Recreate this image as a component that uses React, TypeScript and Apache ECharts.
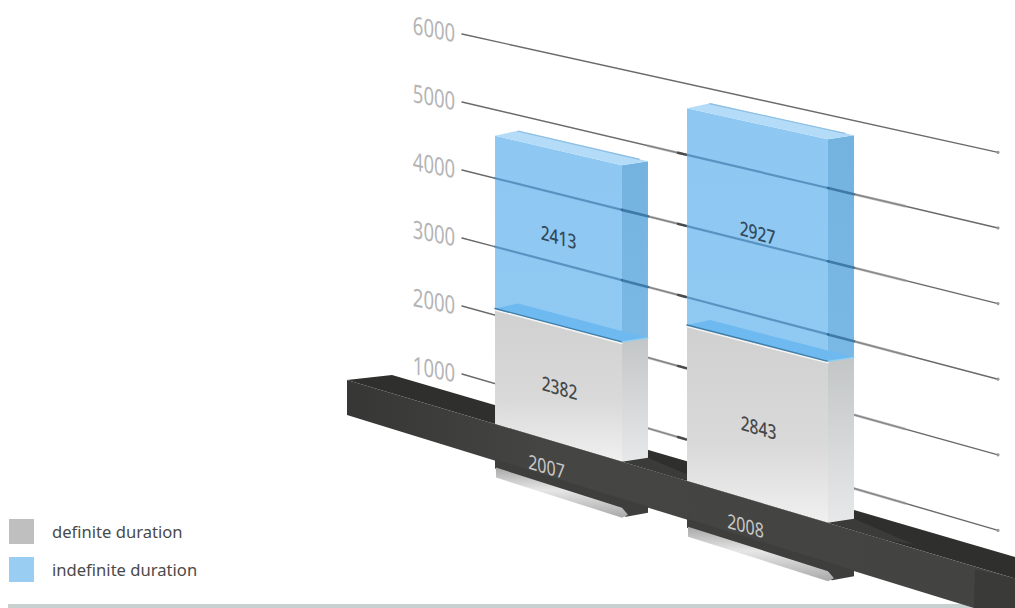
import React, { useEffect, useRef } from "react";
import * as echarts from "echarts";

const categories = ["2007", "2008"];
const definiteValues = [2382, 2843];
const indefiniteValues = [2413, 2927];
const tickValues = [1000, 2000, 3000, 4000, 5000, 6000];

// Back wall: the y axis runs along its left edge and the lines fan out to the right.
const WALL_LEFT = 462;
const WALL_RIGHT = 998;
const AXIS_ZERO = 442;
const AXIS_SCALE = 0.068;
const WALL_ZERO_RIGHT = 606;
const WALL_SCALE_RIGHT = 0.0756;

function wallY(x: number, py: number) {
  const v = (AXIS_ZERO - py) / AXIS_SCALE;
  const right = WALL_ZERO_RIGHT - WALL_SCALE_RIGHT * v;
  return py + ((x - WALL_LEFT) / (WALL_RIGHT - WALL_LEFT)) * (right - py);
}

// Front plane of the columns, sheared and slightly enlarged towards the right.
function frontY(x: number, py: number) {
  const v = (AXIS_ZERO - py) / AXIS_SCALE;
  const base = 479 + (x - 495) * 0.294;
  const scale = 0.0716 + (x - 495) * 1.27e-5;
  return base - scale * v;
}

// Plinth edges
const plinthTop = (x: number) => 380 + (x - 347) * 0.297;
const plinthBottom = (x: number) => 415 + (x - 347) * 0.308;

const DEPTH_X = 26;
const DEPTH_Y = -4;

function columnEdges(api: any, idx: number) {
  const cx = api.coord([idx, 0])[0];
  const band = api.size([1, 0])[0];
  const w = band * (0.638 + (cx - 558.5) * 0.000354);
  return { cx, xl: cx - w / 2, xr: cx + w / 2 };
}

const poly = (points: number[][], style: any, extra: any = {}) => ({
  type: "polygon",
  shape: { points },
  style,
  ...extra,
});

const line = (x1: number, y1: number, x2: number, y2: number, stroke: string, lineWidth: number) => ({
  type: "line",
  shape: { x1, y1, x2, y2 },
  style: { stroke, lineWidth, lineCap: "round", fill: "none" },
});

const vGrad = (stops: [number, string][]) =>
  new echarts.graphic.LinearGradient(0, 0, 0, 1, stops.map(([offset, color]) => ({ offset, color })));

// Text lying in a sheared plane: verticals stay vertical, the baseline runs downhill
// with the given slope. The shear is split into rotate / scale / rotate for nested elements.
function shearedText(text: string, x: number, y: number, narrow: number, slope: number, style: any) {
  const p = narrow;
  const r = slope * narrow;
  const s = 1;
  const E = (p + s) / 2;
  const F = (p - s) / 2;
  const G = r / 2;
  const H = r / 2;
  const Q = Math.hypot(E, H);
  const R = Math.hypot(F, G);
  const a1 = Math.atan2(G, F);
  const a2 = Math.atan2(H, E);
  const theta = (a2 - a1) / 2;
  const phi = (a2 + a1) / 2;
  return {
    type: "group",
    x,
    y,
    rotation: -phi,
    scaleX: Q + R,
    scaleY: Q - R,
    children: [
      {
        type: "text",
        rotation: -theta,
        style: { text, align: "center", verticalAlign: "middle", ...style },
      },
    ],
  };
}

const rowLabel = (text: string, x: number, y: number, fill: string) =>
  shearedText(text, x, y, 0.78, 0.29, {
    fill,
    fontFamily: "Noto Sans",
    fontSize: 20,
    fontWeight: 500,
  });

function renderWall(_: any, api: any) {
  const value = api.value(1);
  const py = api.coord([0, value])[1];
  const y = (x: number) => wallY(x, py);
  const children: any[] = [
    line(WALL_LEFT, y(WALL_LEFT), WALL_RIGHT, y(WALL_RIGHT), "#6a6a6a", 1.4),
    { type: "circle", shape: { cx: WALL_RIGHT, cy: y(WALL_RIGHT), r: 1.6 }, style: { fill: "#9a9a9a" } },
    shearedText(String(value), WALL_LEFT - 28, y(WALL_LEFT) - 6, 0.74, 0.2, {
      fill: "#b4b4b4",
      fontFamily: "Noto Sans",
      fontWeight: 400,
      fontSize: 25,
    }),
  ];
  if (value < 6000) {
    children.push(line(854, y(854), 905, y(905), "rgba(150,150,150,0.65)", 2.6));
    children.push(line(648, y(648), 687, y(687), "rgba(150,150,150,0.55)", 2.6));
    children.push(line(678, y(678), 686, y(686), "#4a4a4a", 2.4));
  }
  return { type: "group", children };
}

function renderPlinthTop() {
  return {
    type: "group",
    children: [
      poly([[347, 380], [392, 375], [1015, 557], [1015, plinthTop(1015)]], { fill: "#2f2f2e" }),
    ],
  };
}

function renderDefinite(_: any, api: any) {
  const idx = api.value(0);
  const top = api.coord([idx, api.value(1)])[1];
  const { cx, xl, xr } = columnEdges(api, idx);
  const xs = xr + DEPTH_X;
  const topL = frontY(xl, top);
  const topR = frontY(xr, top);
  const labelTop = frontY(cx, top);
  const labelBottom = plinthTop(cx);
  return {
    type: "group",
    children: [
      poly([[xr + 2, plinthTop(xr)], [xs, plinthTop(xr) + DEPTH_Y], [xs + 60, plinthTop(xs + 60) - 4], [xs + 30, plinthTop(xs + 30)]], {
        fill: "#3b3b39",
      }),
      poly(
        [[xl, topL], [xr, topR], [xr, plinthTop(xr)], [xl, plinthTop(xl)]],
        { fill: vGrad([[0, "#d0d0d0"], [0.6, "#d9d9d9"], [1, "#f0f0f0"]]) }
      ),
      poly(
        [[xr, topR], [xs, topR + DEPTH_Y], [xs, plinthTop(xr) + DEPTH_Y], [xr, plinthTop(xr)]],
        { fill: vGrad([[0, "#c3c6c7"], [1, "#e6e8e9"]]) }
      ),
      line(xl, topL + 1.5, xr, topR + 1.5, "#f4f4f4", 1.6),
      rowLabel(String(api.value(1)), cx + 1, labelTop + (labelBottom - labelTop) * 0.53, "#45484a"),
    ],
  };
}

function renderIndefinite(_: any, api: any) {
  const idx = api.value(0);
  const top = api.coord([idx, api.value(2)])[1];
  const bottom = api.coord([idx, api.value(3)])[1];
  const { cx, xl, xr } = columnEdges(api, idx);
  const xs = xr + DEPTH_X;
  const T = (x: number) => frontY(x, top);
  const B = (x: number) => frontY(x, bottom);
  const children: any[] = [
    poly(
      [[xl, T(xl)], [xr, T(xr)], [xr, B(xr)], [xl, B(xl)]],
      { fill: vGrad([[0, "#8ec8f2"], [1, "#90caf3"]]) }
    ),
    poly(
      [[xr, T(xr)], [xs, T(xr) + DEPTH_Y], [xs, B(xr) + DEPTH_Y], [xr, B(xr)]],
      { fill: vGrad([[0, "#74b3e0"], [1, "#7ab9e6"]]) }
    ),
    // lid of the column
    poly(
      [[xl, T(xl)], [xl + 23, T(xl) - 5], [xs, T(xr) + DEPTH_Y], [xr, T(xr)]],
      { fill: "#b4dcf8" }
    ),
    line(xl + 23, T(xl) - 4.5, xs - 9, T(xr) + DEPTH_Y - 2, "#8fc0e4", 1.4),
    // top of the lower block, seen through the glass
    poly(
      [[xl, B(xl)], [xl + 23, B(xl) - 5], [xs, B(xr) + DEPTH_Y], [xr, B(xr)]],
      { fill: "#6db9f0" }
    ),
    line(xl, B(xl), xr, B(xr), "#3f7ea8", 1.4),
    line(xr, B(xr), xs, B(xr) + DEPTH_Y, "#8fd0f2", 1.2),
  ];
  // wall lines showing through the column
  tickValues.forEach((tick) => {
    const py = api.coord([idx, tick])[1];
    const midY = wallY(cx, py);
    if (midY > T(cx) && midY < B(cx)) {
      children.push(line(xl, wallY(xl, py), xr, wallY(xr, py), "rgba(52,112,160,0.6)", 2.2));
      children.push(line(xr, wallY(xr, py), xs, wallY(xs, py), "rgba(40,95,140,0.7)", 2.6));
    }
  });
  children.push(rowLabel(String(api.value(1)), cx, (T(cx) + B(cx)) / 2 - 1, "#34495c"));
  return { type: "group", children };
}

function renderPlinthFront() {
  return {
    type: "group",
    children: [
      poly(
        [[347, 380], [1015, plinthTop(1015)], [1015, 608], [974, 608], [347, 415]],
        {
          fill: new echarts.graphic.LinearGradient(0, 0, 1, 0, [
            { offset: 0, color: "#363635" },
            { offset: 0.3, color: "#454543" },
            { offset: 1, color: "#434341" },
          ]),
        }
      ),
      poly([[975, plinthTop(975) + 3], [1015, plinthTop(1015)], [1015, 608], [974, 608]], { fill: "#3a3a39" }),
    ],
  };
}

function renderFoot(_: any, api: any) {
  const idx = api.value(0);
  const { cx, xl, xr } = columnEdges(api, idx);
  const xs = xr + DEPTH_X;
  const x = cx - 12;
  return {
    type: "group",
    children: [
      poly(
        [[xl, plinthBottom(xl) - 1], [xs, plinthBottom(xs) - 1], [xs, plinthBottom(xs) + 5], [xr + 4, plinthBottom(xr) + 17], [xl, plinthBottom(xl) + 8]],
        { fill: "#3e3e3c" }
      ),
      poly(
        [[xl + 1, plinthBottom(xl) + 7], [xr, plinthBottom(xr) + 8], [xr + 6, plinthBottom(xr) + 15], [xr, plinthBottom(xr) + 18], [xl + 1, plinthBottom(xl) + 17]],
        { fill: vGrad([[0, "#a8a8a8"], [0.45, "#e6e6e6"], [1, "#a9a9a9"]]) }
      ),
      shearedText(categories[idx], x, plinthTop(x) + 26.5, 0.8, 0.29, {
        fill: "#c9c9c9",
        fontFamily: "Noto Sans",
        fontSize: 20,
      }),
    ],
  };
}

export default function App() {
  const ref = useRef<HTMLDivElement>(null);

  useEffect(() => {
    document.body.style.margin = "0";
    const chart = echarts.init(ref.current!, undefined, { renderer: "svg" });
    const definiteRows = categories.map((_, i) => [i, definiteValues[i]]);
    const indefiniteRows = categories.map((_, i) => [
      i,
      indefiniteValues[i],
      definiteValues[i] + indefiniteValues[i],
      definiteValues[i],
    ]);
    chart.setOption({
      animation: false,
      backgroundColor: "#ffffff",
      grid: { left: 459, width: 398, top: 34, height: 408 },
      xAxis: { type: "category", data: categories, show: false },
      yAxis: { type: "value", min: 0, max: 6000, interval: 1000, show: false },
      legend: {
        orient: "vertical",
        left: 9,
        top: 519,
        padding: 0,
        itemGap: 13,
        itemWidth: 25,
        itemHeight: 25,
        icon: "rect",
        data: ["definite duration", "indefinite duration"],
        selectedMode: false,
        textStyle: {
          color: "#4a4a4a",
          fontFamily: "Noto Sans",
          fontSize: 16.6,
          padding: [0, 0, 0, 13],
        },
      },
      graphic: [
        {
          type: "rect",
          z: 0,
          shape: { x: 8, y: 604, width: 1007, height: 4 },
          style: { fill: "#c9d0d0" },
        },
      ],
      series: [
        {
          type: "custom",
          name: "wall",
          z: 2,
          renderItem: renderWall,
          data: tickValues.map((v) => [0, v]),
          encode: { x: 0, y: 1 },
          silent: true,
        },
        {
          type: "custom",
          name: "plinth-top",
          z: 3,
          renderItem: renderPlinthTop,
          data: [[0, 0]],
          encode: { x: 0, y: 1 },
          silent: true,
        },
        {
          type: "custom",
          name: "definite duration",
          z: 4,
          itemStyle: { color: "#bfbfbf" },
          renderItem: renderDefinite,
          data: definiteRows,
          encode: { x: 0, y: 1 },
          silent: true,
        },
        {
          type: "custom",
          name: "indefinite duration",
          z: 5,
          itemStyle: { color: "#99cdf2" },
          renderItem: renderIndefinite,
          data: indefiniteRows,
          encode: { x: 0, y: 2 },
          silent: true,
        },
        {
          type: "custom",
          name: "plinth-front",
          z: 6,
          renderItem: renderPlinthFront,
          data: [[0, 0]],
          encode: { x: 0, y: 1 },
          silent: true,
        },
        {
          type: "custom",
          name: "feet",
          z: 7,
          renderItem: renderFoot,
          data: categories.map((_, i) => [i, 0]),
          encode: { x: 0, y: 1 },
          silent: true,
        },
      ],
    });
    return () => chart.dispose();
  }, []);

  return <div ref={ref} style={{ position: "fixed", left: 0, top: 0, width: 1015, height: 608 }} />;
}
